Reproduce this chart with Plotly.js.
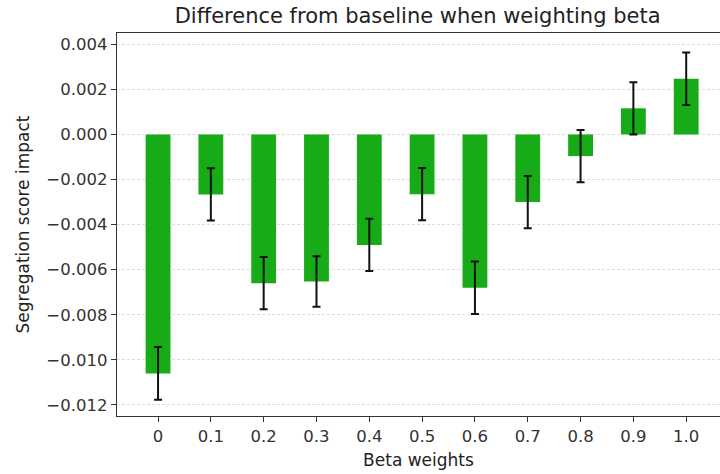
<!DOCTYPE html>
<html>
<head>
<meta charset="utf-8">
<script src="https://cdn.plot.ly/plotly-3.0.1.min.js"></script>
<style>html,body{margin:0;padding:0;background:#fff}#chart{width:720px;height:474px}</style>
</head>
<body>
<div id="chart"></div>
<script>
const betaWeights = ['0','0.1','0.2','0.3','0.4','0.5','0.6','0.7','0.8','0.9','1.0'];
const impact = [-0.0106, -0.00266, -0.0066, -0.00652, -0.0049, -0.00265, -0.0068, -0.003, -0.00096, 0.00116, 0.00247];
const errors = [0.00117, 0.00116, 0.00116, 0.00112, 0.00116, 0.00116, 0.00116, 0.00116, 0.00116, 0.00116, 0.00116];
const yTicks = [-0.012, -0.010, -0.008, -0.006, -0.004, -0.002, 0.000, 0.002, 0.004];

const font = 'DejaVu Sans, sans-serif';
Plotly.newPlot('chart', [{
  type: 'bar',
  x: betaWeights,
  y: impact,
  width: 0.47,
  marker: {color: '#17ab17', line: {width: 0}},
  error_y: {type: 'data', array: errors, visible: true, color: '#111', thickness: 2, width: 4}
}], {
  width: 720, height: 474,
  margin: {l: 117, r: 0, t: 33, b: 58},
  paper_bgcolor: '#fff', plot_bgcolor: '#fff',
  showlegend: false,
  font: {family: font, color: '#222', size: 16},
  title: {text: 'Difference from baseline when weighting beta', font: {family: font, size: 21, color: '#222'}, x: 0.58, xanchor: 'center', y: 0.968, yanchor: 'middle'},
  xaxis: {
    type: 'category', range: [-0.777, 10.64],
    showline: true, linecolor: '#333', linewidth: 1.3, mirror: true,
    ticks: 'outside', ticklen: 5, tickcolor: '#333',
    showgrid: false, zeroline: false,
    tickfont: {family: font, size: 16.5, color: '#333'},
    title: {text: 'Beta weights', font: {family: font, size: 17, color: '#222'}, standoff: 9}
  },
  yaxis: {
    range: [-0.01249, 0.0045],
    tickvals: yTicks, tickformat: '.3f',
    showline: true, linecolor: '#333', linewidth: 1.3, mirror: true,
    ticks: 'outside', ticklen: 5, tickcolor: '#333',
    showgrid: true, gridcolor: '#d4d4d4', griddash: '3px,2px', gridwidth: 0.8,
    zeroline: false,
    tickfont: {family: font, size: 16.5, color: '#333'},
    title: {text: 'Segregation score impact', font: {family: font, size: 17, color: '#222'}, standoff: 12}
  }
}, {displayModeBar: false, staticPlot: true});
</script>
</body>
</html>
